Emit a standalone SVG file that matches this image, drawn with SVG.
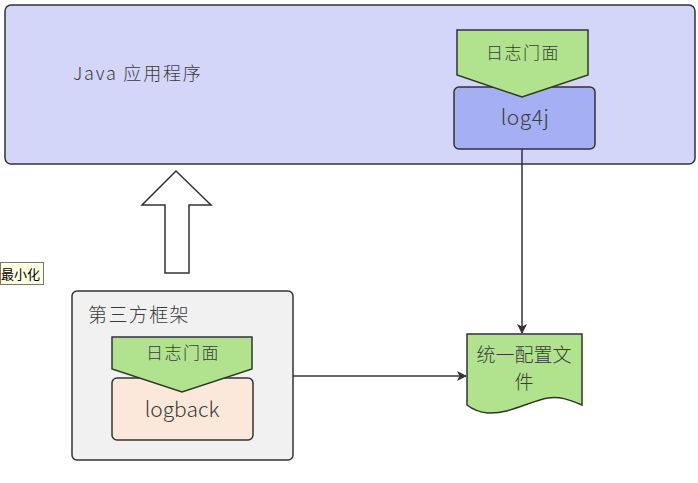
<svg xmlns="http://www.w3.org/2000/svg" width="698" height="483" viewBox="0 0 698 483">
<defs>
<style>
.t{font-family:"Noto Sans CJK SC","Noto Sans",sans-serif;fill:#3a3a3a;font-weight:300}
.c{text-anchor:middle}
.s{stroke:#333;stroke-width:1.5}
.g{fill:#b1e38f}
</style>
<marker id="ah" viewBox="0 0 10 10" refX="9" refY="5" markerWidth="10" markerHeight="10" markerUnits="userSpaceOnUse" orient="auto">
<path d="M0,0 L10,5 L0,10 L2.5,5 Z" fill="#333"/>
</marker>
</defs>
<rect width="698" height="483" fill="#fff"/>
<g id="java-app">
<rect x="5" y="5" width="690" height="159" rx="6" fill="#d3d6f8" class="s"/>
<text x="73" y="80" class="t" font-size="18" letter-spacing="1.8">Java 应用程序</text>
</g>
<g id="log4j">
<rect x="454" y="87" width="141" height="62" rx="5" fill="#a5aff3" class="s"/>
<text x="525" y="125" class="t c" font-size="21" letter-spacing="0.5">log4j</text>
</g>
<g id="facade-top">
<path d="M457,30 H588 V75 L522,97 L457,75 Z" class="g s"/>
<text x="523" y="59" class="t c" font-size="17" letter-spacing="1.5">日志门面</text>
</g>
<g id="up-arrow">
<path d="M176,171 L211,205 H189 V273 H165 V205 H142 Z" fill="#fff" class="s" stroke-linejoin="miter"/>
</g>
<g id="tooltip">
<rect x="0.5" y="262.5" width="43" height="22" fill="#ffffe1" stroke="#777" stroke-width="1"/>
<text x="1" y="279" font-family="Noto Sans CJK SC,sans-serif" font-size="13" fill="#000">最小化</text>
</g>
<g id="third-party">
<rect x="72" y="291" width="221" height="169" rx="5" fill="#f1f1f1" class="s"/>
<text x="88" y="322" class="t" font-size="19" letter-spacing="1.4">第三方框架</text>
</g>
<g id="logback">
<rect x="112" y="378" width="141" height="62" rx="5" fill="#fce8da" class="s"/>
<text x="182" y="417" class="t c" font-size="21">logback</text>
</g>
<g id="facade-bottom">
<path d="M112,337 H252 V369 L182,392 L112,369 Z" class="g s"/>
<text x="183" y="359" class="t c" font-size="17" letter-spacing="1.5">日志门面</text>
</g>
<g id="config-file">
<path d="M467,334 H582 V405 C570,400 560,396 548,398 C530,401 510,414 488,413 C478,412 472,409 467,405 Z" class="g s"/>
<text x="524" y="362" class="t c" font-size="19">统一配置文</text>
<text x="524" y="389" class="t c" font-size="19">件</text>
</g>
<g id="connectors" fill="none" stroke="#333" stroke-width="1.5">
<path d="M522,149 V333" marker-end="url(#ah)"/>
<path d="M293,376 H466" marker-end="url(#ah)"/>
</g>
</svg>
